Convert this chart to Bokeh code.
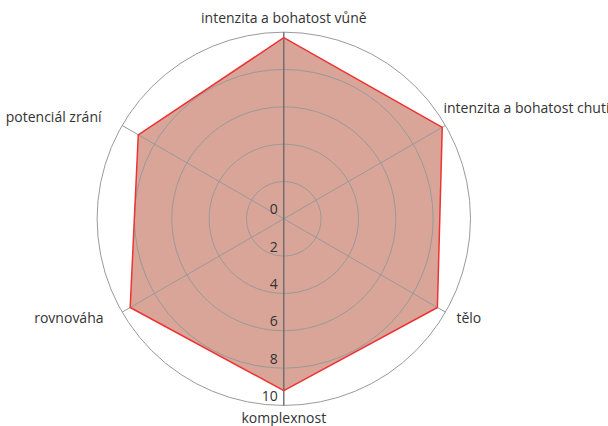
import numpy as np
from bokeh.plotting import figure
from bokeh.models import Range1d, ColumnDataSource
from bokeh.core.properties import value
from bokeh.embed import file_html
from bokeh.resources import INLINE

categories = ["intenzita a bohatost vůně", "intenzita a bohatost chuti", "tělo",
              "komplexnost", "rovnováha", "potenciál zrání"]
scores = [9.7, 9.8, 9.5, 9.2, 9.5, 9.0]
ticks = [0, 2, 4, 6, 8, 10]
tick_labels = ["0", "2", "4", "6", "8", "10"]

FONT = "Open Sans"
TEXT_COLOR = "#333333"
S = 18.67  # px per unit

W, H = 608, 426
cx, cy = 283.3, 218.3  # center in figure px (from top)

p = figure(width=W, height=H, output_backend="svg", toolbar_location=None,
           x_range=Range1d(-cx / S, (W - cx) / S), y_range=Range1d(-(H - cy) / S, cy / S),
           min_border=0, outline_line_color=None)
p.axis.visible = False
p.grid.visible = False
p.background_fill_color = "white"

n = len(categories)
ang = np.arange(n) * 2 * np.pi / n
rmax = ticks[-1]

# data polygon fill
xs = [s * np.sin(a) for s, a in zip(scores, ang)]
ys = [s * np.cos(a) for s, a in zip(scores, ang)]
p.patch(xs, ys, fill_color="#d8a598", line_color=None)

# grid circles
p.circle(x=[0] * (len(ticks) - 1), y=[0] * (len(ticks) - 1), radius=ticks[1:],
         fill_color=None, line_color="#9a9a9a", line_width=1)

# spokes
p.segment(x0=[0] * n, y0=[0] * n, x1=list(rmax * np.sin(ang)), y1=list(rmax * np.cos(ang)),
          line_color="#9a9a9a", line_width=1)
# radial axis
p.segment(x0=[0], y0=[rmax], x1=[0], y1=[-rmax], line_color="#5a5a5a", line_width=1)

# outline
p.patch(xs, ys, fill_color=None, line_color="#ee3333", line_width=1.5)

# tick labels along the downward axis
p.text(x=[-6 / S] * len(ticks), y=[-t + 9.4 / S for t in ticks], text=tick_labels,
       text_font=value(FONT), text_font_size="14px", text_color=TEXT_COLOR,
       text_align="right", text_baseline="middle")

# category labels: offsets in px from the outer point
offs = [(0, 14.6), (-2, 18), (11, -5.4), (0, -11.5), (-18.6, -5.4), (-20.6, 9)]
aligns = ["center", "left", "left", "center", "right", "right"]
lx = [rmax * np.sin(a) + o[0] / S for a, o in zip(ang, offs)]
ly = [rmax * np.cos(a) + o[1] / S for a, o in zip(ang, offs)]
src = ColumnDataSource(dict(x=lx, y=ly, t=categories, al=aligns))
p.text(x="x", y="y", text="t", text_align="al", source=src,
       text_font=value(FONT), text_font_size="14px", text_color=TEXT_COLOR,
       text_baseline="middle")

open("out.html", "w").write(file_html(p, INLINE))
